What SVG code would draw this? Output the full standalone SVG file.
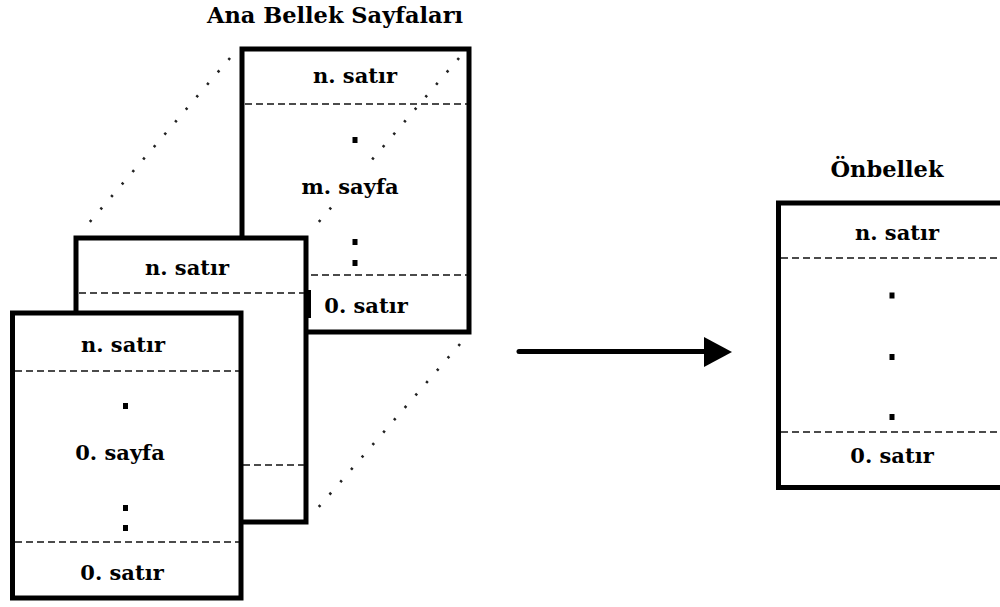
<svg xmlns="http://www.w3.org/2000/svg" width="1000" height="607" viewBox="0 0 1000 607">
<defs>
<style>
.box{fill:#fff;stroke:#000;stroke-width:5}
.dash{fill:none;stroke:#111;stroke-width:1.5;stroke-dasharray:7 4}
.dot{fill:none;stroke:#222;stroke-width:2.6;stroke-dasharray:2.4 14;stroke-linecap:butt}
.lbl{font-family:"DejaVu Serif","Liberation Serif",serif;font-weight:bold;font-size:21px;fill:#000;text-anchor:middle}
.ttl{font-family:"DejaVu Serif","Liberation Serif",serif;font-weight:bold;font-size:22.5px;fill:#000;text-anchor:middle}
.pt{fill:#000}
</style>
</defs>
<rect width="1000" height="607" fill="#fff"/>
<text class="ttl" x="335" y="23">Ana Bellek Sayfaları</text>
<text class="ttl" x="887" y="177">Önbellek</text>
<g id="page-m">
<rect class="box" x="242" y="49" width="227" height="283"/>
<line class="dash" x1="245" y1="104" x2="467" y2="104"/>
<line class="dash" x1="245" y1="275" x2="467" y2="275"/>
<text class="lbl" x="355" y="83">n. satır</text>
<rect class="pt" x="352.5" y="137" width="5" height="6"/>
<rect class="pt" x="352.5" y="239" width="5" height="6"/>
<rect class="pt" x="352.5" y="260" width="5" height="6"/>
<text class="lbl" x="366" y="313">0. satır</text>
</g>
<g id="connectors">
<line class="dot" x1="230" y1="58" x2="88" y2="224"/>
<line class="dot" x1="459" y1="58" x2="317" y2="224"/>
<line class="dot" x1="460" y1="344" x2="317" y2="509"/>
<line x1="519" y1="351.5" x2="706" y2="351.5" stroke="#000" stroke-width="5" stroke-linecap="round"/>
<polygon points="704,337 732,352 704,367" fill="#000"/>
</g>
<rect x="296" y="166" width="110" height="40" fill="#fff"/>
<text class="lbl" x="350" y="194">m. sayfa</text>
<g id="page-1">
<rect class="box" x="76" y="238" width="230" height="284"/>
<rect class="pt" x="305" y="290" width="6" height="28"/>
<line class="dash" x1="79" y1="293" x2="304" y2="293"/>
<line class="dash" x1="243" y1="465" x2="304" y2="465"/>
<text class="lbl" x="187" y="275">n. satır</text>
</g>
<g id="page-0">
<rect class="box" x="12.5" y="313" width="228.5" height="285"/>
<line class="dash" x1="15" y1="371" x2="239" y2="371"/>
<line class="dash" x1="15" y1="542" x2="239" y2="542"/>
<text class="lbl" x="123" y="352">n. satır</text>
<rect class="pt" x="123" y="403" width="5" height="6"/>
<text class="lbl" x="120" y="460">0. sayfa</text>
<rect class="pt" x="123" y="505" width="5" height="6"/>
<rect class="pt" x="123" y="525" width="5" height="6"/>
<text class="lbl" x="122" y="580">0. satır</text>
</g>
<g id="cache">
<path d="M1010,203 H778.5 V487.5 H1010" fill="#fff" stroke="#000" stroke-width="5"/>
<line class="dash" x1="781" y1="258" x2="1000" y2="258"/>
<line class="dash" x1="781" y1="432" x2="1000" y2="432"/>
<text class="lbl" x="897" y="240">n. satır</text>
<rect class="pt" x="889.5" y="292.5" width="5" height="6"/>
<rect class="pt" x="889.5" y="354" width="5" height="6"/>
<rect class="pt" x="889.5" y="414" width="5" height="6"/>
<text class="lbl" x="892" y="463">0. satır</text>
</g>
</svg>
